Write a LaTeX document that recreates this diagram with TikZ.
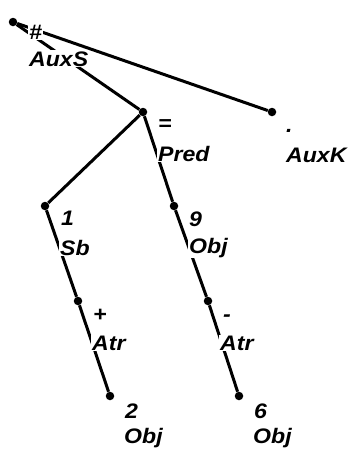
\documentclass[tikz,border=0pt]{standalone}
\usepackage{fontspec}
\newfontfamily\treefont[FakeStretch=1.1]{Liberation Sans Bold Italic}
\usetikzlibrary{positioning}

\begin{document}
\begin{tikzpicture}[
    x=1pt, y=-1pt,
    dot/.style={circle, fill=black, inner sep=0pt, minimum size=8.5pt},
    edge/.style={line width=3pt, black},
    lbl/.style={anchor=base west, fill=white, inner sep=1pt,
                font=\treefont\fontsize{21}{23}\selectfont}
  ]
  \useasboundingbox (0,0) rectangle (350,450);

  %% Tree nodes
  \node[dot] (root) at (13,22) {};
  \node[dot] (pred) at (143,112) {};
  \node[dot] (auxk) at (272,112) {};
  \node[dot] (sb)   at (45,206) {};
  \node[dot] (obja) at (174,206) {};
  \node[dot] (atra) at (78,301) {};
  \node[dot] (atrb) at (208,301) {};
  \node[dot] (objb) at (110,396) {};
  \node[dot] (objc) at (239,396) {};

  %% Edges
  \draw[edge] (root) -- (auxk);
  \draw[edge] (root) -- (pred);
  \draw[edge] (pred) -- (sb);
  \draw[edge] (pred) -- (obja);
  \draw[edge] (sb) -- (atra);
  \draw[edge] (obja) -- (atrb);
  \draw[edge] (atra) -- (objb);
  \draw[edge] (atrb) -- (objc);

  %% Labels
  \node[lbl] (root-ord) at ([shift={(15,17)}]root) {\#};
  \node[lbl] (root-fn)  at ([shift={(15,44)}]root) {AuxS};
  \node[lbl] (pred-ord) at ([shift={(14,18)}]pred) {=};
  \node[lbl] (pred-fn)  at ([shift={(14,49)}]pred) {Pred};
  \node[lbl] (auxk-ord) at ([shift={(13,20)}]auxk) {.};
  \node[lbl] (auxk-fn)  at ([shift={(13,50)}]auxk) {AuxK};
  \node[lbl] (sb-ord)   at ([shift={(15,19)}]sb) {1};
  \node[lbl] (sb-fn)    at ([shift={(14,49)}]sb) {Sb};
  \node[lbl] (obja-ord) at ([shift={(14,20)}]obja) {9};
  \node[lbl] (obja-fn)  at ([shift={(14,47)}]obja) {Obj};
  \node[lbl] (atra-ord) at ([shift={(14,20)}]atra) {+};
  \node[lbl] (atra-fn)  at ([shift={(13,49)}]atra) {Atr};
  \node[lbl] (atrb-ord) at ([shift={(14,20)}]atrb) {-};
  \node[lbl] (atrb-fn)  at ([shift={(11,49)}]atrb) {Atr};
  \node[lbl] (objb-ord) at ([shift={(14,22)}]objb) {2};
  \node[lbl] (objb-fn)  at ([shift={(13,47)}]objb) {Obj};
  \node[lbl] (objc-ord) at ([shift={(14,22)}]objc) {6};
  \node[lbl] (objc-fn)  at ([shift={(13,47)}]objc) {Obj};

\end{tikzpicture}
\end{document}
